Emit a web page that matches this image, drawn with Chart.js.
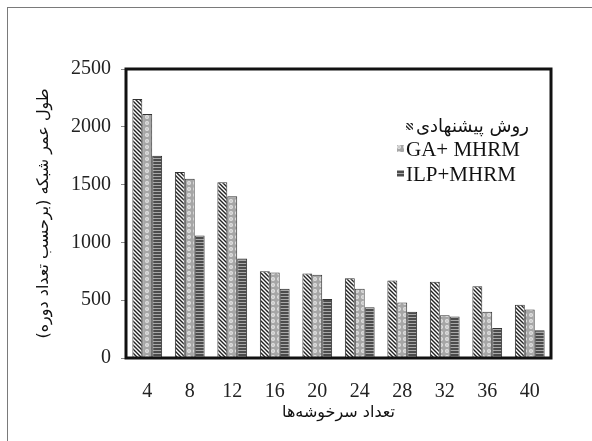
<!DOCTYPE html>
<html>
<head>
<meta charset="utf-8">
<script src="https://cdn.jsdelivr.net/npm/chart.js@4.4.1/dist/chart.umd.min.js"></script>
<style>
body { margin: 0; background: #fff; }
#wrap { position: relative; width: 592px; height: 441px; overflow: hidden; }
#frame { position: absolute; left: 7px; top: 7px; width: 640px; height: 480px; border: 1px solid #7a7a7a; box-sizing: border-box; }
#chart { position: absolute; left: 0; top: 0; }
</style>
</head>
<body>
<div id="wrap">
  <div id="frame"></div>
  <canvas id="chart" width="592" height="441"></canvas>
</div>
<script>
// data
const categories = ['4', '8', '12', '16', '20', '24', '28', '32', '36', '40'];
const seriesNames = ['روش پیشنهادی', 'GA+ MHRM', 'ILP+MHRM'];
const proposed = [2240, 1610, 1520, 750, 730, 690, 670, 660, 620, 460];
const gaMhrm = [2110, 1550, 1400, 740, 720, 600, 480, 370, 400, 420];
const ilpMhrm = [1750, 1060, 860, 600, 510, 440, 400, 360, 260, 240];
const yTicks = [0, 500, 1000, 1500, 2000, 2500];
const xTitle = 'تعداد سرخوشه‌ها';
const yTitle = 'طول عمر شبکه (برحسب تعداد دوره)';

const FONT = '"Liberation Serif", "DejaVu Sans", serif';
const AR_FONT = '"DejaVu Sans", "Liberation Serif", sans-serif';

function makePattern(w, h, draw) {
    const c = document.createElement('canvas');
    c.width = w;
    c.height = h;
    const g = c.getContext('2d');
    draw(g);
    return document.getElementById('chart').getContext('2d').createPattern(c, 'repeat');
}

// diagonal dark stripes
const diagPattern = makePattern(4, 4, g => {
    g.fillStyle = '#fff';
    g.fillRect(0, 0, 4, 4);
    g.strokeStyle = '#222';
    g.lineWidth = 1.4;
    g.beginPath();
    g.moveTo(-1, -1); g.lineTo(5, 5);
    g.moveTo(-1, 3); g.lineTo(1, 5);
    g.moveTo(3, -1); g.lineTo(5, 1);
    g.stroke();
});

// light grey with dots
const dotPattern = makePattern(6, 6, g => {
    g.fillStyle = '#a6a6a6';
    g.fillRect(0, 0, 6, 6);
    g.fillStyle = '#e4e4e4';
    g.beginPath();
    g.arc(3, 3, 2, 0, Math.PI * 2);
    g.fill();
    g.fillStyle = '#888';
    g.fillRect(2.5, 2.5, 1, 1);
});

// horizontal grey stripes
const hPattern = makePattern(2, 3, g => {
    g.fillStyle = '#4c4c4c';
    g.fillRect(0, 0, 2, 2);
    g.fillStyle = '#a8a8a8';
    g.fillRect(0, 2, 2, 1);
});

const patterns = [diagPattern, dotPattern, hPattern];

const boxPlugin = {
    id: 'boxPlugin',
    afterDraw(chart) {
        const ctx = chart.ctx;
        const a = chart.chartArea;
        ctx.save();
        ctx.strokeStyle = '#111';
        ctx.lineWidth = 3;
        ctx.strokeRect(a.left, a.top, a.right - a.left, a.bottom - a.top);

        // legend inside the plot
        const rows = [127, 149, 174];
        chart.data.datasets.forEach((ds, i) => {
            const y = rows[i];
            ctx.fillStyle = ds.backgroundColor;
            ctx.fillRect(i === 0 ? 406 : 397, y - 4, 7, 7);
            ctx.fillStyle = '#111';
            ctx.textBaseline = 'middle';
            ctx.textAlign = 'left';
            if (i === 0) {
                ctx.font = '18px ' + AR_FONT;
                ctx.fillText(ds.label, 416, y);
            } else {
                ctx.font = '21px ' + FONT;
                ctx.fillText(ds.label, 406, y + 1);
            }
        });
        ctx.restore();
    }
};

new Chart(document.getElementById('chart'), {
    type: 'bar',
    data: {
        labels: categories,
        datasets: [proposed, gaMhrm, ilpMhrm].map((vals, i) => ({
            label: seriesNames[i],
            data: vals,
            backgroundColor: patterns[i],
            borderColor: '#333',
            borderWidth: 1,
            categoryPercentage: 0.7,
            barPercentage: 1
        }))
    },
    options: {
        responsive: false,
        animation: false,
        layout: { padding: { left: 30, right: 41, top: 69, bottom: 13 } },
        plugins: {
            legend: { display: false },
            tooltip: { enabled: false }
        },
        scales: {
            x: {
                grid: { display: false },
                border: { display: false },
                ticks: { color: '#222', font: { family: FONT, size: 20 }, padding: 14, maxRotation: 0 },
                title: { display: true, text: xTitle, color: '#111', font: { family: AR_FONT, size: 16 }, padding: { top: 0, bottom: 6 } },
                afterFit(s) { s.height = 70; }
            },
            y: {
                min: 0,
                max: 2500,
                afterBuildTicks(s) { s.ticks = yTicks.map(v => ({ value: v })); },
                grid: { drawOnChartArea: false, tickLength: 5, color: '#888' },
                border: { display: false },
                ticks: { color: '#222', font: { family: FONT, size: 20 }, padding: 10, callback: v => String(v) },
                title: { display: true, text: yTitle, color: '#111', font: { family: AR_FONT, size: 16 }, padding: { top: 4, bottom: 0 } },
                afterFit(s) { s.width = 96; }
            }
        }
    },
    plugins: [boxPlugin]
});
</script>
</body>
</html>
